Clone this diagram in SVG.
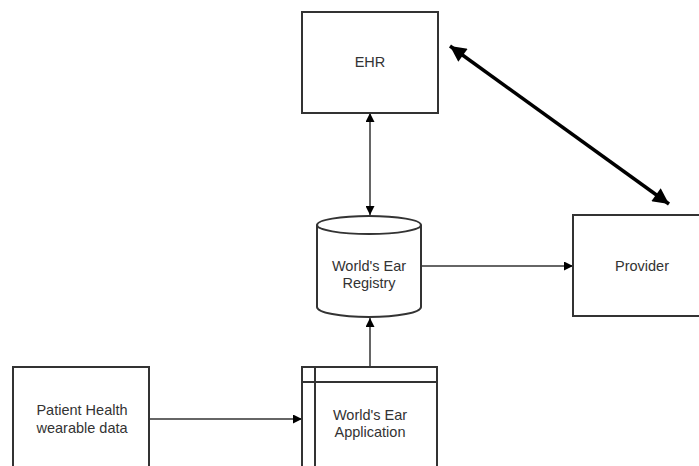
<svg xmlns="http://www.w3.org/2000/svg" width="699" height="466" viewBox="0 0 699 466">
<defs>
<style>
.box{fill:#fff;stroke:#333;stroke-width:2}
.lbl{font-family:"Liberation Sans",Arial,sans-serif;font-size:14.5px;fill:#333;text-anchor:middle}
.con{fill:none;stroke:#333;stroke-width:1.5}
.thick{fill:none;stroke:#000;stroke-width:3.5}
</style>
<marker id="ah" viewBox="0 0 10 10" refX="10" refY="5" markerWidth="11" markerHeight="9" markerUnits="userSpaceOnUse" orient="auto-start-reverse">
<path d="M0,0 L10,5 L0,10 Z" fill="#000"/>
</marker>
<marker id="ahb" viewBox="0 0 10 10" refX="10" refY="5" markerWidth="19" markerHeight="16" markerUnits="userSpaceOnUse" orient="auto-start-reverse">
<path d="M0,0 L10,5 L0,10 Z" fill="#000"/>
</marker>
</defs>
<rect width="699" height="466" fill="#fff"/>
<g id="connectors">
<line class="con" x1="370" y1="113" x2="370" y2="215" marker-start="url(#ah)" marker-end="url(#ah)"/>
<line class="con" x1="370" y1="367" x2="370" y2="318" marker-end="url(#ah)"/>
<line class="con" x1="421" y1="266" x2="573" y2="266" marker-end="url(#ah)"/>
<line class="con" x1="149" y1="419" x2="302" y2="419" marker-end="url(#ah)"/>
<line class="thick" x1="450" y1="46" x2="669" y2="204" marker-start="url(#ahb)" marker-end="url(#ahb)"/>
</g>
<g id="ehr">
<rect class="box" x="302" y="12" width="136" height="101"/>
<text class="lbl" x="370" y="67">EHR</text>
</g>
<g id="registry">
<path class="box" d="M317,225 L317,307 A52,10 0 0 0 421,307 L421,225 A52,9 0 0 0 317,225 Z"/>
<path class="box" d="M317,225 A52,9 0 0 0 421,225" fill="none"/>
<text class="lbl" x="369" y="271">World's Ear</text>
<text class="lbl" x="369" y="288">Registry</text>
</g>
<g id="provider">
<rect class="box" x="573" y="215" width="140" height="101"/>
<text class="lbl" x="642" y="271">Provider</text>
</g>
<g id="application">
<rect class="box" x="302" y="367" width="135" height="110"/>
<line class="con" x1="302" y1="382" x2="437" y2="382" style="stroke-width:2"/>
<line class="con" x1="315" y1="367" x2="315" y2="477" style="stroke-width:2"/>
<text class="lbl" x="370" y="420">World's Ear</text>
<text class="lbl" x="370" y="437">Application</text>
</g>
<g id="patient">
<rect class="box" x="13" y="367" width="136" height="110"/>
<text class="lbl" x="82" y="415">Patient Health</text>
<text class="lbl" x="82" y="433">wearable data</text>
</g>
</svg>
